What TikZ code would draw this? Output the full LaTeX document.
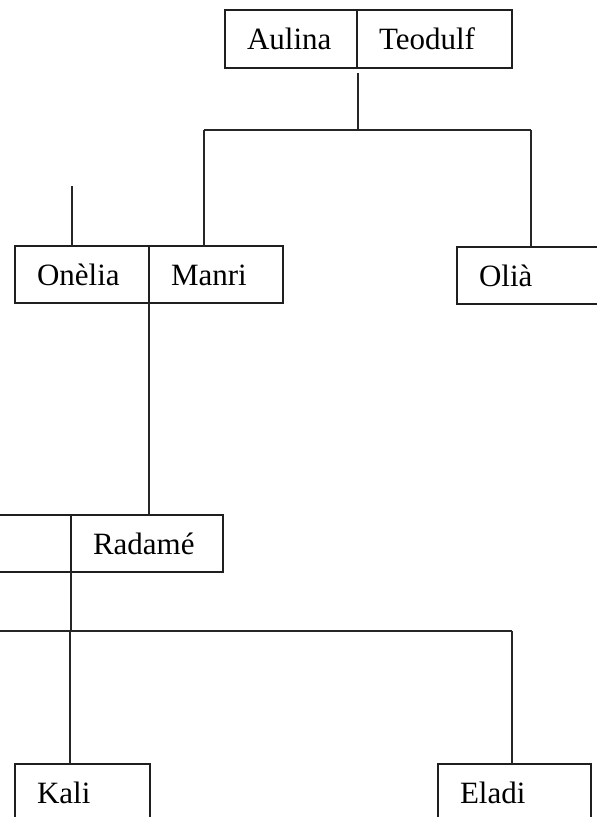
\documentclass[tikz,border=0pt]{standalone}
\usepackage{fontspec}
\setmainfont{Liberation Serif}
\begin{document}
\begin{tikzpicture}[x=1pt,y=-1pt,
  person/.style={draw=black!88, line width=1.6pt, anchor=north west, outer sep=0pt,
    minimum height=57pt, inner xsep=22pt, inner ysep=0pt, align=left,
    text height=21pt, text depth=0pt, font=\fontsize{31}{36}\selectfont},
  conn/.style={draw=black!85, line width=1.3pt}]
\useasboundingbox (0,0) rectangle (597,817);
\clip (0,0) rectangle (597,817);
% generation 1
\node[person, minimum height=58pt, text width=88pt] (aul) at (225,10) {Aulina};
\node[person, minimum height=58pt, text width=111pt] (teo) at (357,10) {Teodulf};
% generation 2
\node[person, text width=90pt] (one) at (15,246) {Onèlia};
\node[person, text width=90pt] (man) at (149,246) {Manri};
\node[person, text width=139pt] (oli) at (457,247) {Olià};
% generation 3
\node[person, text width=57pt] (unk) at (-30,515) {};
\node[person, text width=108pt] (rad) at (71,515) {Radamé};
% generation 4
\node[person, text width=91pt] (kal) at (15,764) {Kali};
\node[person, text width=109pt] (ela) at (438,764) {Eladi};
% connectors
\coordinate (tstart) at (358,73);
\coordinate (j1) at (358,130);
\coordinate (j1l) at (204,130);
\coordinate (j1r) at (531,130);
\draw[conn] (tstart) -- (j1);
\draw[conn] (j1l) -- (j1r);
\draw[conn] (j1l) -- (j1l |- man.north);
\draw[conn] (j1r) -- (j1r |- oli.north);
\coordinate (ostub) at (72,186);
\draw[conn] (ostub) -- (ostub |- one.north);
\draw[conn] (man.south west) -- (man.south west |- rad.north);
\coordinate (j2) at (71,631);
\coordinate (j2l) at (-5,631);
\coordinate (j2r) at (512,631);
\draw[conn] (rad.south west) -- (j2);
\draw[conn] (j2l) -- (j2r);
\coordinate (j2k) at (70,631);
\draw[conn] (j2k) -- (j2k |- kal.north);
\draw[conn] (j2r) -- (j2r |- ela.north);
\end{tikzpicture}
\end{document}
